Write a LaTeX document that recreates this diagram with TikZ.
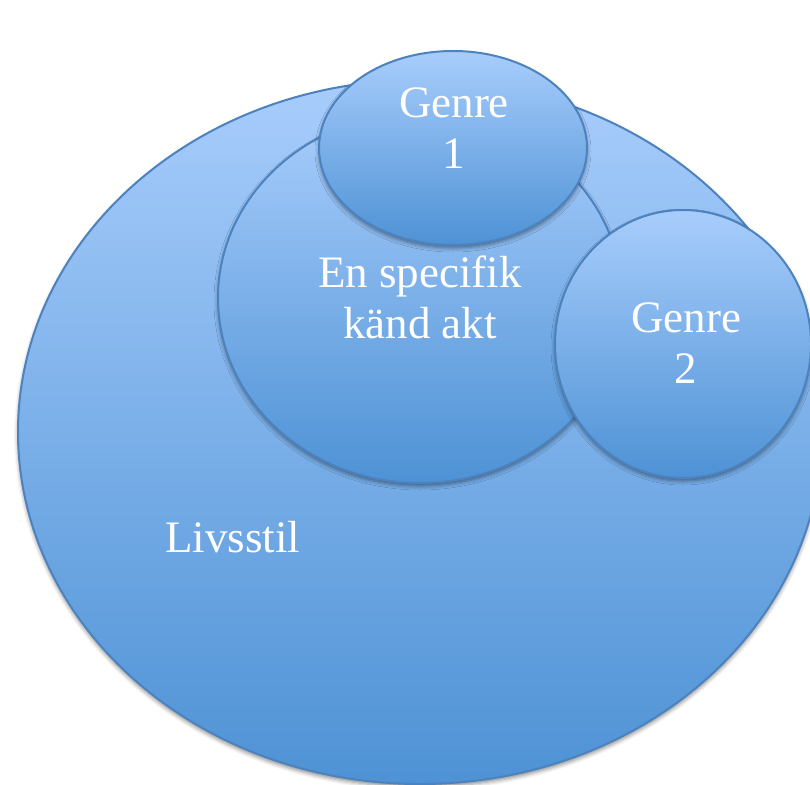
\documentclass[tikz,border=0pt]{standalone}
\usepackage{fontspec}
\setmainfont{Liberation Serif}
\usetikzlibrary{shapes.geometric,shadows.blur}
\definecolor{topc}{RGB}{168,205,252}
\definecolor{botc}{RGB}{78,146,213}
\definecolor{linec}{RGB}{76,130,190}
\tikzset{
  blob/.style={ellipse, draw=linec, line width=2pt, inner sep=0pt, outer sep=0pt,
    top color=topc, bottom color=botc,
    blur shadow={shadow xshift=0pt, shadow yshift=-3pt, shadow blur radius=4pt, shadow opacity=45}},
  lbl/.style={text=white, align=center, anchor=base, inner sep=0pt,
    font=\fontsize{45}{51}\selectfont}
}
\begin{document}
\begin{tikzpicture}[x=1pt,y=-1pt]
\useasboundingbox (0,0) rectangle (810,784);
\node[blob, minimum width=804pt, minimum height=704pt] (life) at (420,432) {};
\node[blob, minimum width=404pt, minimum height=370pt] (act) at (420,298) {};
\node[blob, minimum width=268pt, minimum height=194pt] (g1) at (453,148) {};
\node[blob, minimum width=256pt, minimum height=268pt] (g2) at (683,344) {};
\node[lbl] (t1) at (454,168) {Genre\\1};
\node[lbl] (tact) at (420,338) {En specifik\\känd akt};
\node[lbl] (t2) at (686,383) {Genre\\2};
\node[lbl, anchor=base west] (tlife) at (165,552) {Livsstil};
\end{tikzpicture}
\end{document}
